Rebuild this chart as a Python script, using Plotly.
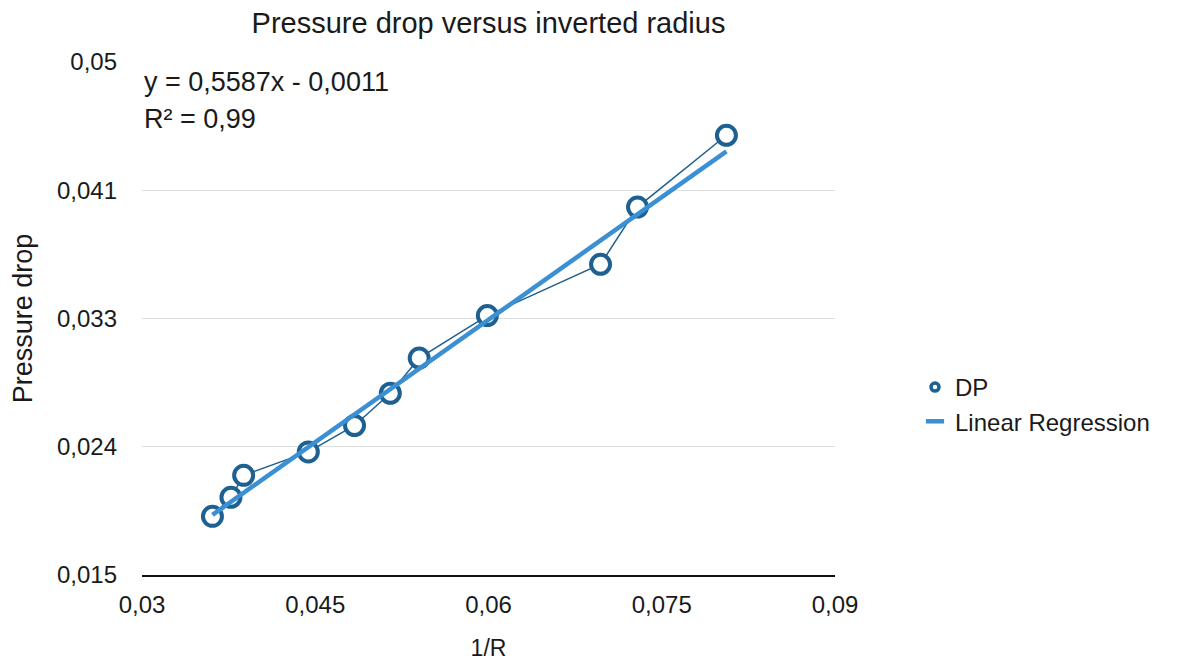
import plotly.graph_objects as go

# Data
inv_r = [0.0361, 0.0377, 0.0388, 0.0444, 0.0484, 0.0515, 0.0540, 0.0599, 0.0697, 0.0729, 0.0806]
dp = [0.0190, 0.0203, 0.0218, 0.0234, 0.0252, 0.0274, 0.0298, 0.0327, 0.0362, 0.0401, 0.0450]
reg_x = [0.0361, 0.0806]
reg_y = [0.0191, 0.0439]
y_tick_vals = [0.015, 0.02375, 0.0325, 0.04125, 0.05]
y_tick_text = ["0,015", "0,024", "0,033", "0,041", "0,05"]
x_tick_vals = [0.03, 0.045, 0.06, 0.075, 0.09]
x_tick_text = ["0,03", "0,045", "0,06", "0,075", "0,09"]

FONT = "Liberation Sans, Arial, Helvetica, sans-serif"
DARK = "#1e6091"
LIGHT = "#3b8fd3"
TXT = "#1a1a1a"

W, H = 1187, 666
L, R, T, B = 134, 360, 54, 99
PW, PH = W - L - R, H - T - B

fig = go.Figure()
fig.add_trace(go.Scatter(
    x=inv_r, y=dp, name="DP", mode="lines+markers", showlegend=False,
    line=dict(color=DARK, width=1.5),
    marker=dict(symbol="circle", size=19, color="white", line=dict(color=DARK, width=4)),
))
fig.add_trace(go.Scatter(
    x=reg_x, y=reg_y, name="Linear Regression", mode="lines", showlegend=False,
    line=dict(color=LIGHT, width=4.5),
))
# legend-only entries (symbols as in the reference legend)
fig.add_trace(go.Scatter(
    x=[None], y=[None], name="DP", mode="markers",
    marker=dict(symbol="circle", size=8, color="white", line=dict(color=DARK, width=3.5)),
))
fig.add_trace(go.Scatter(
    x=[None], y=[None], name="Linear Regression", mode="markers",
    marker=dict(symbol="line-ew", size=13, color=LIGHT, line=dict(color=LIGHT, width=4.5)),
))

fig.update_layout(
    width=W, height=H,
    paper_bgcolor="white", plot_bgcolor="white",
    margin=dict(l=L, r=R, t=T, b=B),
    font=dict(family=FONT, color=TXT, size=24),
    title=dict(text="Pressure drop versus inverted radius", x=(L + PW / 2) / W, xanchor="center",
               y=1 - 15 / H, yanchor="middle", font=dict(size=29, color=TXT)),
    showlegend=True,
    legend=dict(x=(907 - L) / PW, xanchor="left", y=(T + PH - 357) / PH, yanchor="top",
                font=dict(size=24, color=TXT), bgcolor="rgba(0,0,0,0)", itemwidth=30,
                tracegroupgap=0, itemsizing="trace"),
    xaxis=dict(range=[0.03, 0.09], tickvals=x_tick_vals, ticktext=x_tick_text,
               showgrid=False, zeroline=False, showline=True, linecolor="#111111", linewidth=2,
               ticks="", ticklabelstandoff=7, tickfont=dict(size=24),
               title=dict(text="1/R", font=dict(size=23), standoff=23)),
    yaxis=dict(range=[0.015, 0.05], tickvals=y_tick_vals, ticktext=y_tick_text,
               showgrid=True, gridcolor="#dedede", gridwidth=1, zeroline=False, showline=False,
               ticks="", ticklabelstandoff=24, tickfont=dict(size=24),
               title=dict(text="Pressure drop", font=dict(size=27), standoff=17)),
)

fig.add_annotation(x=0.0, y=(T + PH - 74) / PH, xref="paper", yref="paper", xanchor="left", yanchor="middle",
                   text="y = 0,5587x - 0,0011", showarrow=False, font=dict(size=27, color=TXT))
fig.add_annotation(x=0.0, y=(T + PH - 111) / PH, xref="paper", yref="paper", xanchor="left", yanchor="middle",
                   text="R² = 0,99", showarrow=False, font=dict(size=27, color=TXT))

fig.write_html("out.html")
